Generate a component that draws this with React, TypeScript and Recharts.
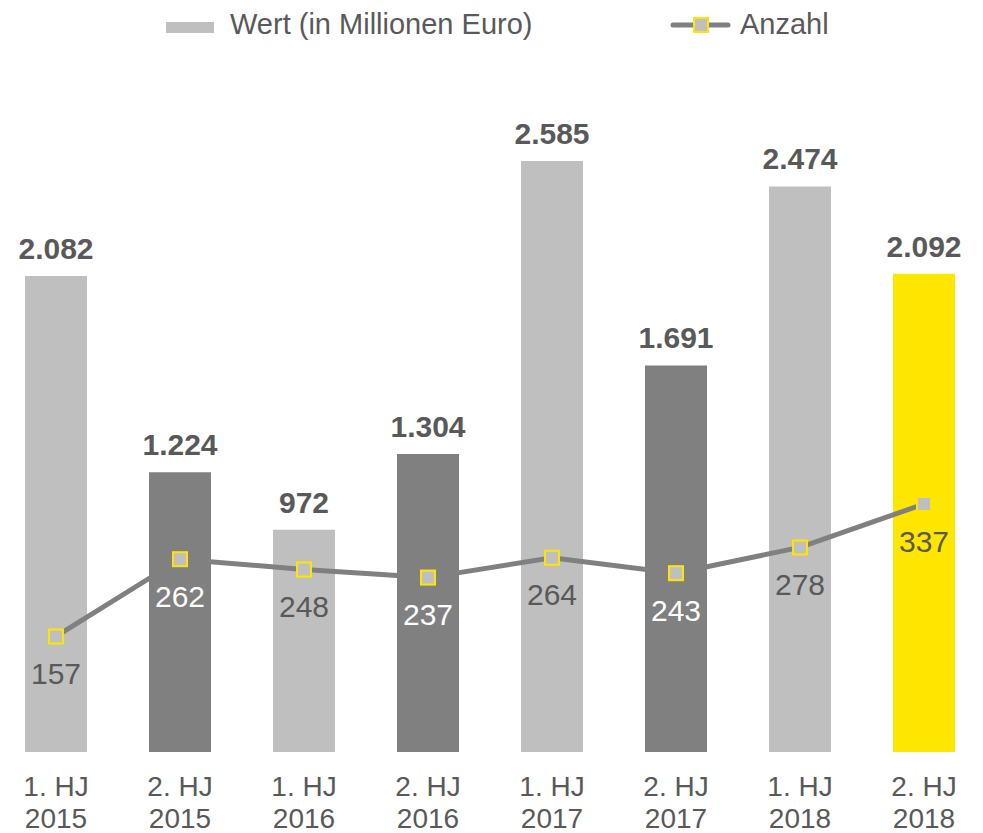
import React from 'react';
import { ComposedChart, Bar, Line, XAxis, YAxis, Cell, LabelList } from 'recharts';

const PERIODS = ['1. HJ', '2. HJ', '1. HJ', '2. HJ', '1. HJ', '2. HJ', '1. HJ', '2. HJ'];
const YEARS = ['2015', '2015', '2016', '2016', '2017', '2017', '2018', '2018'];
const WERT = [2082, 1224, 972, 1304, 2585, 1691, 2474, 2092];
const ANZAHL = [157, 262, 248, 237, 264, 243, 278, 337];
const BAR_COLORS = ['#BFBFBF', '#808080', '#BFBFBF', '#808080', '#BFBFBF', '#808080', '#BFBFBF', '#FFE600'];

const data = PERIODS.map((p, i) => ({ key: `${p} ${YEARS[i]}`, period: p, year: YEARS[i], wert: WERT[i], anzahl: ANZAHL[i] }));

const FONT = '"Liberation Sans", Arial, sans-serif';
const TEXT = '#595959';

const fmt = (v: number) => String(v).replace(/\B(?=(\d{3})+(?!\d))/g, '.');

const Tick = ({ x, y, payload, index }: any) => {
  const d = data[payload?.index ?? index];
  return (
    <g transform={`translate(${x},${y})`}>
      <text x={0} y={44} textAnchor="middle" fontSize={28} fill={TEXT} fontFamily={FONT}>{d.period}</text>
      <text x={0} y={76} textAnchor="middle" fontSize={28} fill={TEXT} fontFamily={FONT}>{d.year}</text>
    </g>
  );
};

const Dot = ({ cx, cy }: any) => (
  <rect x={cx - 7} y={cy - 7} width={14} height={14} fill="#BFBFBF" stroke="#FFE600" strokeWidth={2} />
);

const CountLabel = ({ x, y, value, index }: any) => (
  <text x={x} y={y + 37} textAnchor="middle" dominantBaseline="central" fontSize={30}
    fill={BAR_COLORS[index] === '#808080' ? '#FFFFFF' : TEXT} fontFamily={FONT}>
    {value}
  </text>
);

export default function App() {
  return (
    <div style={{ position: 'absolute', left: 0, top: 0, width: 983, height: 833, overflow: 'hidden', background: '#fff', fontFamily: FONT }}>
      <div style={{ position: 'absolute', left: -6, top: 0 }}>
        <ComposedChart width={992} height={833} data={data} barCategoryGap="25%" margin={{ top: 100, right: 0, left: 0, bottom: 0 }}>
          <XAxis dataKey="key" height={81} axisLine={false} tickLine={false} tickSize={0} tickMargin={0} tick={<Tick />} interval={0} />
          <YAxis yAxisId="l" hide domain={[0, 2852]} />
          <YAxis yAxisId="r" hide orientation="right" domain={[0, 886]} />
          <Bar yAxisId="l" dataKey="wert" isAnimationActive={false}>
            {data.map((_, i) => <Cell key={`c-${i}`} fill={BAR_COLORS[i]} />)}
            <LabelList dataKey="wert" position="top" offset={17} formatter={(v: any) => fmt(Number(v))}
              style={{ fontSize: 30, fontWeight: 'bold', fill: TEXT, fontFamily: FONT }} />
          </Bar>
          <Line yAxisId="r" dataKey="anzahl" stroke="#808080" strokeWidth={5} dot={<Dot />} activeDot={false} isAnimationActive={false}>
            <LabelList dataKey="anzahl" content={<CountLabel />} />
          </Line>
        </ComposedChart>
      </div>
      <div style={{ position: 'absolute', left: 166, top: 22, width: 48, height: 11, background: '#BFBFBF' }} />
      <div style={{ position: 'absolute', left: 230, top: 7, fontSize: 29, color: TEXT, lineHeight: '34px' }}>Wert (in Millionen Euro)</div>
      <svg style={{ position: 'absolute', left: 670, top: 14 }} width={62} height={22}>
        <line x1={3} y1={11} x2={58} y2={11} stroke="#808080" strokeWidth={5} strokeLinecap="round" />
        <rect x={24} y={4} width={14} height={14} fill="#BFBFBF" stroke="#FFE600" strokeWidth={2} />
      </svg>
      <div style={{ position: 'absolute', left: 740, top: 7, fontSize: 29, color: TEXT, lineHeight: '34px' }}>Anzahl</div>
    </div>
  );
}
